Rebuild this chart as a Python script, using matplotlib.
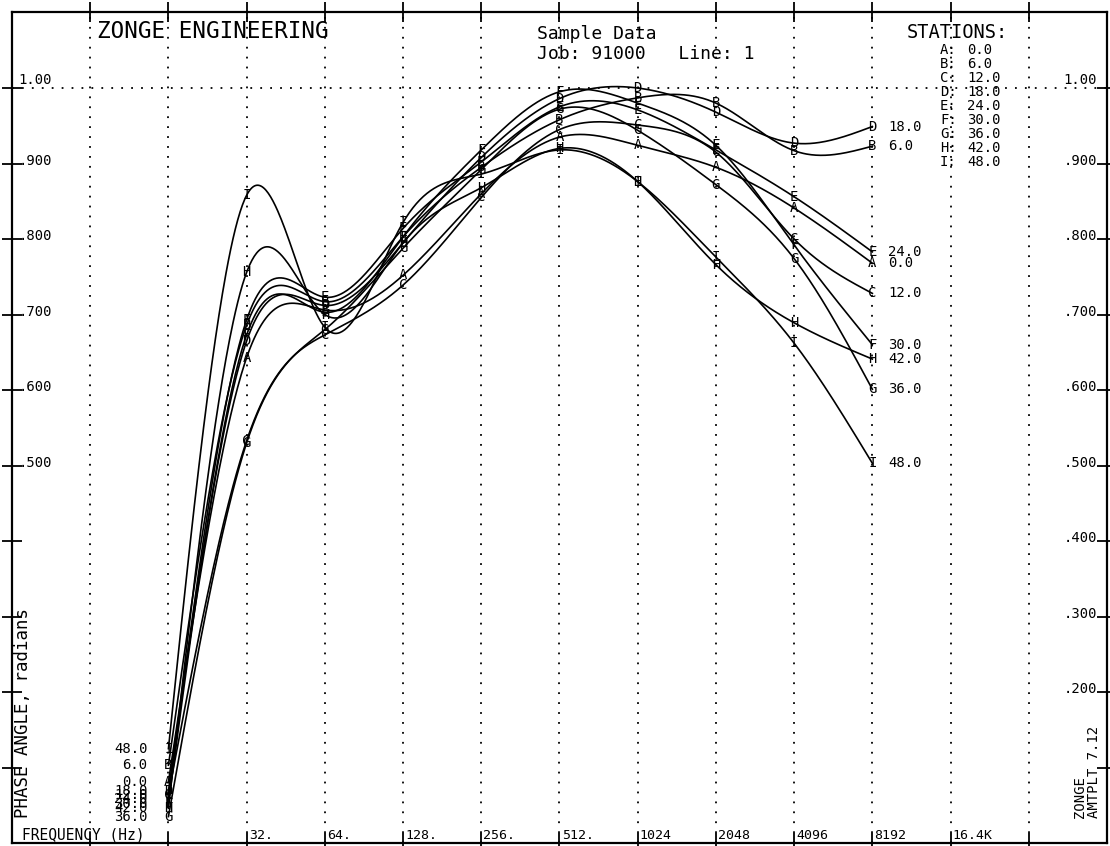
import numpy as np
import matplotlib
matplotlib.use("Agg")
import matplotlib.pyplot as plt

# frequencies (Hz) and phase (radians) per station
FREQS = [16, 32, 64, 128, 256, 512, 1024, 2048, 4096, 8192]
STATIONS = ['A', 'B', 'C', 'D', 'E', 'F', 'G', 'H', 'I']
STATION_POS = [0.0, 6.0, 12.0, 18.0, 24.0, 30.0, 36.0, 42.0, 48.0]

PHASE_A = [0.081, 0.643, 0.706, 0.752, 0.860, 0.935, 0.924, 0.895, 0.841, 0.768]
PHASE_B = [0.103, 0.686, 0.717, 0.803, 0.895, 0.958, 0.987, 0.980, 0.917, 0.923]
PHASE_C = [0.064, 0.533, 0.673, 0.739, 0.855, 0.945, 0.951, 0.915, 0.800, 0.728]
PHASE_D = [0.069, 0.665, 0.712, 0.795, 0.908, 0.986, 1.000, 0.968, 0.927, 0.949]
PHASE_E = [0.058, 0.693, 0.723, 0.814, 0.902, 0.975, 0.971, 0.918, 0.856, 0.783]
PHASE_F = [0.052, 0.673, 0.703, 0.803, 0.918, 0.995, 0.980, 0.924, 0.792, 0.660]
PHASE_G = [0.035, 0.530, 0.680, 0.788, 0.892, 0.972, 0.944, 0.872, 0.774, 0.601]
PHASE_H = [0.046, 0.756, 0.700, 0.795, 0.868, 0.920, 0.876, 0.766, 0.689, 0.641]
PHASE_I = [0.125, 0.858, 0.683, 0.822, 0.886, 0.918, 0.876, 0.776, 0.662, 0.503]
PHASES = [PHASE_A, PHASE_B, PHASE_C, PHASE_D, PHASE_E,
          PHASE_F, PHASE_G, PHASE_H, PHASE_I]

FREQ_TICKS = [32, 64, 128, 256, 512, 1024, 2048, 4096, 8192, 16384]
FREQ_LABELS = ['32.', '64.', '128.', '256.', '512.', '1024', '2048', '4096', '8192', '16.4K']
LEFT_YLABELS = ['1.00', '.900', '.800', '.700', '.600', '.500']
RIGHT_YLABELS = ['1.00', '.900', '.800', '.700', '.600', '.500', '.400', '.300', '.200']

MONO = 'DejaVu Sans Mono'
W, H = 1110, 846


def spline(x, y, xs):
    # natural cubic spline, plotter-style smoothing
    x = np.asarray(x, float); y = np.asarray(y, float)
    n = len(x)
    h = np.diff(x)
    A = np.zeros((n, n)); r = np.zeros(n)
    A[0, 0] = A[-1, -1] = 1
    for i in range(1, n - 1):
        A[i, i - 1] = h[i - 1]; A[i, i] = 2 * (h[i - 1] + h[i]); A[i, i + 1] = h[i]
        r[i] = 3 * ((y[i + 1] - y[i]) / h[i] - (y[i] - y[i - 1]) / h[i - 1])
    c = np.linalg.solve(A, r)
    b = (y[1:] - y[:-1]) / h - h * (2 * c[:-1] + c[1:]) / 3
    d = (c[1:] - c[:-1]) / (3 * h)
    idx = np.clip(np.searchsorted(x, xs) - 1, 0, n - 2)
    dx = xs - x[idx]
    return y[idx] + b[idx] * dx + c[idx] * dx ** 2 + d[idx] * dx ** 3


def ptext(fig, x, y, s, **kw):
    # place free text by pixel position (top-left origin)
    kw.setdefault('family', MONO)
    fig.text(x / W, 1 - y / H, s, **kw)


fig = plt.figure(figsize=(11.1, 8.46), dpi=100)
ax = fig.add_axes([12 / W, 3 / H, (1107 - 12) / W, (843 - 12) / H])
ax.set_xlim(2, 16)
ax.set_ylim(0, 1.1007)

lx = np.log2(FREQS)
xs = np.linspace(lx[0], lx[-1], 600)
for st, pos, ph in zip(STATIONS, STATION_POS, PHASES):
    ax.plot(xs, spline(lx, ph, xs), color='k', lw=1.2, zorder=3)
    for xv, yv in zip(lx, ph):
        ax.text(xv, yv, st, ha='center', va='center', fontsize=10,
                family=MONO, zorder=4)
    ax.annotate('%.1f' % pos, (lx[-1], ph[-1]), xytext=(11.5, 0),
                textcoords='offset points', ha='left', va='center',
                fontsize=10, family=MONO)
    ax.annotate('%.1f' % pos, (lx[0], ph[0]), xytext=(-15, 0),
                textcoords='offset points', ha='right', va='center',
                fontsize=10, family=MONO)

# dotted grid
for xv in range(3, 16):
    ax.axvline(xv, color='k', lw=1.3, ls=(0, (1, 4.5)), zorder=1)
ax.axhline(1.0, color='k', lw=1.3, ls=(0, (1, 4.5)), zorder=1)

# frame and ticks
for sp in ax.spines.values():
    sp.set_linewidth(1.6)
ax.set_xticks(range(3, 16))
ax.set_yticks(np.arange(1, 11) / 10)
ax.tick_params(which='both', direction='inout', length=15, width=1.3,
               top=True, right=True, labelbottom=False, labelleft=False)

# bottom frequency labels
for f, lab in zip(FREQ_TICKS, FREQ_LABELS):
    ax.annotate(lab, (np.log2(f), 0), xytext=(1.5, 5.5), textcoords='offset points',
                ha='left', va='center', fontsize=9.5, family=MONO)
ax.annotate('FREQUENCY (Hz)', (0, 0), xycoords='axes fraction', xytext=(7, 5.5),
            textcoords='offset points', ha='left', va='center', fontsize=10.5, family=MONO)

# y labels
for i, lab in enumerate(LEFT_YLABELS):
    yv = 1.0 - i * 0.1
    off = 6 if i == 0 else 2
    ax.annotate(lab, (0, yv), xycoords=('axes fraction', 'data'), xytext=(4.5, off),
                textcoords='offset points', ha='left', va='center', fontsize=10, family=MONO)
for i, lab in enumerate(RIGHT_YLABELS):
    yv = 1.0 - i * 0.1
    off = 6 if i == 0 else 2
    ax.annotate(lab, (1, yv), xycoords=('axes fraction', 'data'), xytext=(-7, off),
                textcoords='offset points', ha='right', va='center', fontsize=10, family=MONO)

# header texts
ptext(fig, 97, 31, 'ZONGE ENGINEERING', fontsize=16.3, va='center', ha='left')
ptext(fig, 537, 34, 'Sample Data', fontsize=13, va='center', ha='left')
ptext(fig, 537, 54, 'Job: 91000   Line: 1', fontsize=13, va='center', ha='left')
ptext(fig, 907, 33, 'STATIONS:', fontsize=13.5, va='center', ha='left')
for i, (st, pos) in enumerate(zip(STATIONS, STATION_POS)):
    yy = 50 + i * 14
    ptext(fig, 940, yy, st + ':', fontsize=10, va='center', ha='left')
    ptext(fig, 967, yy, '%.1f' % pos, fontsize=10, va='center', ha='left')

ptext(fig, 23, 818, 'PHASE ANGLE, radians', fontsize=12.5, rotation=90,
      va='bottom', ha='center')
ptext(fig, 1087, 818, 'ZONGE\nAMTPLT 7.12', fontsize=10, rotation=90,
      va='bottom', ha='center', linespacing=0.95, multialignment='left')

fig.savefig('out.png', dpi=100)
